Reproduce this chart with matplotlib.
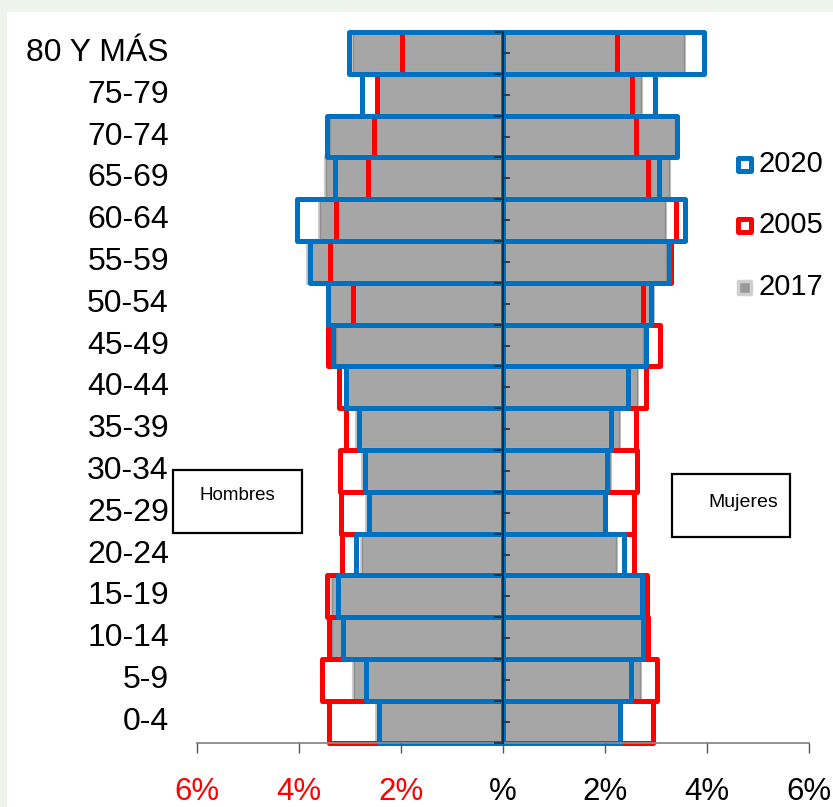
import matplotlib
matplotlib.use("Agg")
import matplotlib.pyplot as plt
from matplotlib.patches import Rectangle
from matplotlib import patheffects as pe
from matplotlib.transforms import blended_transform_factory
import numpy as np

plt.rcParams['font.family'] = ['Liberation Sans', 'DejaVu Sans']

categories = ['80 Y MÁS', '75-79', '70-74', '65-69', '60-64', '55-59', '50-54', '45-49',
              '40-44', '35-39', '30-34', '25-29', '20-24', '15-19', '10-14', '5-9', '0-4']

hombres_2017 = [2.95, 2.45, 3.40, 3.48, 3.58, 3.83, 3.40, 3.28, 3.05, 2.86, 2.74, 2.66, 2.76, 3.35, 3.35, 2.93, 2.48]
hombres_2005 = [1.99, 2.47, 2.53, 2.64, 3.28, 3.39, 2.95, 3.44, 3.22, 3.07, 3.20, 3.18, 3.15, 3.46, 3.41, 3.54, 3.41]
hombres_2020 = [3.02, 2.76, 3.46, 3.29, 4.04, 3.78, 3.44, 3.34, 3.08, 2.82, 2.70, 2.62, 2.89, 3.23, 3.13, 2.69, 2.43]

mujeres_2017 = [3.55, 2.70, 3.38, 3.25, 3.18, 3.20, 2.95, 2.75, 2.62, 2.28, 2.10, 1.98, 2.22, 2.70, 2.82, 2.68, 2.32]
mujeres_2005 = [2.23, 2.52, 2.60, 2.85, 3.39, 3.30, 2.75, 3.08, 2.80, 2.60, 2.62, 2.57, 2.56, 2.82, 2.85, 3.01, 2.95]
mujeres_2020 = [3.94, 2.99, 3.41, 3.06, 3.57, 3.25, 2.90, 2.80, 2.46, 2.12, 2.03, 2.00, 2.37, 2.72, 2.75, 2.50, 2.29]

xtick_values = [-6, -4, -2, 0, 2, 4, 6]
xtick_labels = ['6%', '4%', '2%', '%', '2%', '4%', '6%']
xtick_colors = ['#ff0000', '#ff0000', '#ff0000', 'black', 'black', 'black', 'black']

legend_labels = ['2020', '2005', '2017']

W, H = 833, 807
fig = plt.figure(figsize=(W / 100, H / 100), dpi=100)
fig.patch.set_facecolor('#eef4ec')
# white panel
fig.add_artist(Rectangle((7 / W, 0), 1 - 7 / W, 1 - 12 / H, transform=fig.transFigure,
                         facecolor='white', edgecolor='none', zorder=0))

def fx(px):
    return px / W

def fy(py):
    return 1 - py / H

ax_left, ax_right, ax_top, ax_bottom = 197, 809, 32, 742.7
ax = fig.add_axes([fx(ax_left), fy(ax_bottom), (ax_right - ax_left) / W, (ax_bottom - ax_top) / H])
ax.set_facecolor('none')

y = np.arange(len(categories))
GRAY = '#a6a6a6'
RED = '#ff0000'
BLUE = '#0070c0'
lw_out = 3.6

gray_fx = [pe.Stroke(linewidth=3, foreground='#cccccc'), pe.Normal()]

b1 = ax.barh(y, [-v for v in hombres_2017], height=1.0, color=GRAY, edgecolor='#8e8e8e', linewidth=1, zorder=1)
b2 = ax.barh(y, mujeres_2017, height=1.0, color=GRAY, edgecolor='#8e8e8e', linewidth=1, zorder=1)
for p in list(b1) + list(b2):
    p.set_path_effects(gray_fx)

for vals, sign in ((hombres_2005, -1), (mujeres_2005, 1)):
    bars = ax.barh(y, [sign * v for v in vals], height=1.0, facecolor='none', edgecolor=RED,
                   linewidth=lw_out, zorder=1.6)
    for p in bars:
        p.set_clip_on(False)
        p.set_joinstyle('round')

for vals, sign in ((hombres_2020, -1), (mujeres_2020, 1)):
    bars = ax.barh(y, [sign * v for v in vals], height=1.0, facecolor='none', edgecolor=BLUE,
                   linewidth=lw_out, zorder=2)
    for p in bars:
        p.set_clip_on(False)
        p.set_joinstyle('round')

ax.set_xlim(-6, 6)
ax.set_ylim(len(categories) - 0.5, -0.5)
ax.set_axisbelow(False)

for s in ('top', 'right'):
    ax.spines[s].set_visible(False)
ax.spines['left'].set_position(('data', 0))
ax.spines['left'].set_color('#1c2c44')
ax.spines['left'].set_linewidth(1.4)
ax.spines['left'].set_zorder(3)
ax.spines['bottom'].set_color('#8a8a8a')
ax.spines['bottom'].set_linewidth(1.3)

ax.set_yticks(np.arange(-0.5, len(categories), 1.0))
ax.set_yticks(y, minor=True)
ax.tick_params(axis='y', which='major', direction='out', length=6.5, width=1.2, color='#1c2c44', labelleft=False)
ax.tick_params(axis='y', which='minor', direction='in', length=5, width=1.2, color='#1c2c44', labelleft=False)

ax.set_xticks(xtick_values)
ax.set_xticklabels(xtick_labels, fontsize=22.5)
ax.tick_params(axis='x', direction='out', length=7.5, width=1, color='#555555', pad=17.5)
for lab, c in zip(ax.get_xticklabels(), xtick_colors):
    lab.set_color(c)

trans = blended_transform_factory(fig.transFigure, ax.transData)
for yi, cat in zip(y, categories):
    ax.text(fx(169), yi, cat, transform=trans, ha='right', va='center', fontsize=23, color='black')

# Hombres / Mujeres boxes
fig.add_artist(Rectangle((fx(172.5), fy(532.5)), (302 - 172.5) / W, (532.5 - 470) / H,
                         transform=fig.transFigure, facecolor='white', edgecolor='black', linewidth=1.6))
fig.text(fx(237), fy(495), 'Hombres', ha='center', va='center', fontsize=13.5)
fig.add_artist(Rectangle((fx(672), fy(537)), (790 - 672) / W, (537 - 474) / H,
                         transform=fig.transFigure, facecolor='white', edgecolor='black', linewidth=1.6))
fig.text(fx(743), fy(502), 'Mujeres', ha='center', va='center', fontsize=14)

# Legend
leg_y = [164, 225, 287]
leg_styles = [dict(facecolor='white', edgecolor=BLUE, linewidth=3.6),
              dict(facecolor='white', edgecolor=RED, linewidth=3.6),
              dict(facecolor='#999999', edgecolor='#cfcfcf', linewidth=2.5)]
sq = 13
for ly, lab, st in zip(leg_y, legend_labels, leg_styles):
    r = Rectangle((fx(744.5 - sq / 2), fy(ly + sq / 2)), sq / W, sq / H, transform=fig.transFigure, **st)
    r.set_joinstyle('round')
    fig.add_artist(r)
    fig.text(fx(759), fy(ly), lab, ha='left', va='center', fontsize=21)

fig.savefig('out.png', dpi=100, facecolor=fig.get_facecolor())
